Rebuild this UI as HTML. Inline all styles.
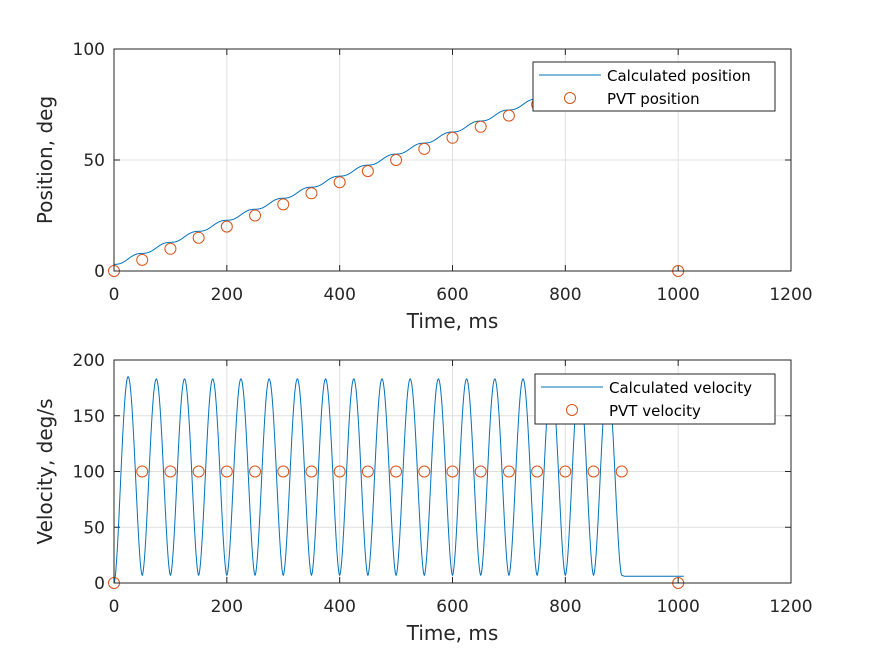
<!DOCTYPE html>
<html><head><meta charset="utf-8"><style>
body{margin:0;background:#fff}
svg{display:block;font-family:"DejaVu Sans","Liberation Sans",sans-serif}
</style></head><body>
<svg id="c" width="875" height="656" viewBox="0 0 875 656"></svg>
<script>
// ---- data ----
const xTicks=[0,200,400,600,800,1000,1200];
const posTicks=[0,50,100];
const velTicks=[0,50,100,150,200];
const pvtTimes=[0,50,100,150,200,250,300,350,400,450,500,550,600,650,700,750,800,850,900,1000];
const pvtPos=[0,5,10,15,20,25,30,35,40,45,50,55,60,65,70,75,80,85,90,0];
const pvtVel=[0,100,100,100,100,100,100,100,100,100,100,100,100,100,100,100,100,100,100,0];
// velocity extremes per 50ms cycle (trough at start of cycle, peak at mid-cycle)
const cycleStart=[0,50,100,150,200,250,300,350,400,450,500,550,600,650,700,750,800,850];
const velPeak=[185,183,183,183,183,183,183,183,183,183,183,183,183,183,183,183,183,183];
const velTrough=[0,7,7,7,7,7,7,7,7,7,7,7,7,7,7,7,7,7];
const velTail=[6,6];           // flat velocity after 900 ms
const tailTimes=[905,1010];
const posStart=[3.0];          // calculated position offset at t=0

const NS="http://www.w3.org/2000/svg";
const svg=document.getElementById('c');
function el(t,a,p){const e=document.createElementNS(NS,t);for(const k in a)e.setAttribute(k,a[k]);(p||svg).appendChild(e);return e;}
const X0=114,X1=791;
const sx=t=>X0+(t/1200)*(X1-X0);
const panels=[{y0:49,y1:271,max:100,ticks:posTicks,ylab:'Position, deg',name:'position'},
              {y0:360,y1:583,max:200,ticks:velTicks,ylab:'Velocity, deg/s',name:'velocity'}];
panels.forEach(p=>{p.sy=v=>p.y1-(v/p.max)*(p.y1-p.y0);});

const SHAPE=0.88;
function vel(t){
  if(t>=900){ if(t<tailTimes[0]){const f=(t-900)/(tailTimes[0]-900);return velTrough[1]+(velTail[0]-velTrough[1])*f;} return velTail[0]; }
  const k=Math.min(cycleStart.length-1,Math.floor(t/50));
  const lt=t-cycleStart[k];
  const tr0=velTrough[k], pk=velPeak[k];
  if(lt<25) return tr0+(pk-tr0)*Math.pow((1-Math.cos(Math.PI*lt/25))/2,SHAPE);
  const endTr=(k+1<velTrough.length)?velTrough[k+1]:7;
  return endTr+(pk-endTr)*Math.pow((1+Math.cos(Math.PI*(lt-25)/25))/2,SHAPE);
}

panels.forEach((p,i)=>{
  const g=el('g',{});  
  el('rect',{x:X0,y:p.y0,width:X1-X0,height:p.y1-p.y0,fill:'#fff'},g);
  xTicks.forEach(t=>{
    const x=sx(t);
    if(t>0&&t<1200){const l=el('line',{x1:x,x2:x,y1:p.y0,y2:p.y1,stroke:'#dfdfdf','stroke-width':1},g);}
    el('line',{x1:x,x2:x,y1:p.y1,y2:p.y1-6,stroke:'#262626'},g);
    el('line',{x1:x,x2:x,y1:p.y0,y2:p.y0+6,stroke:'#262626'},g);
    const tx=el('text',{x:x,y:p.y1+29,'text-anchor':'middle','font-size':'17',fill:'#262626'},g);
    tx.textContent=t;
    
    
  });
  p.ticks.forEach(v=>{
    const y=p.sy(v);
    if(v>0&&v<p.max){const l=el('line',{x1:X0,x2:X1,y1:y,y2:y,stroke:'#dfdfdf'},g);}
    el('line',{x1:X0,x2:X0+6,y1:y,y2:y,stroke:'#262626'},g);
    el('line',{x1:X1,x2:X1-6,y1:y,y2:y,stroke:'#262626'},g);
    const tx=el('text',{x:X0-9,y:y+6,'text-anchor':'end','font-size':'17',fill:'#262626'},g);
    tx.textContent=v;
    
    
  });
  const xl=el('text',{x:(X0+X1)/2,y:p.y1+57,'text-anchor':'middle','font-size':'20',fill:'#262626'},g);
  xl.textContent='Time, ms';
  
  
  const cy=(p.y0+p.y1)/2;
  const yl=el('text',{x:52,y:cy,'text-anchor':'middle','font-size':'20',fill:'#262626',transform:`rotate(-90 52 ${cy})`},g);
  yl.textContent=p.ylab;
  
  
});

(function(){
  const p=panels[0]; let pos=posStart[0]; let d=`M${sx(0)},${p.sy(pos)}`;
  const dt=0.5;
  for(let t=dt;t<=900;t+=dt){pos+=vel(t-dt/2)*dt/1000; d+=`L${sx(t).toFixed(2)},${p.sy(pos).toFixed(2)}`;}
  const path=el('path',{d:d,fill:'none',stroke:'#0072BD','stroke-width':1});
  
  
})();
(function(){
  const p=panels[1]; let d='';
  for(let t=0;t<=tailTimes[1];t+=0.5){d+=(t===0?'M':'L')+sx(t).toFixed(2)+','+p.sy(vel(t)).toFixed(2);}
  const path=el('path',{d:d,fill:'none',stroke:'#0072BD','stroke-width':1});
  
  
})();
pvtTimes.forEach((t,i)=>{
  const c1=el('circle',{cx:sx(t),cy:panels[0].sy(pvtPos[i]),r:5.5,fill:'none',stroke:'#D95319','stroke-width':1});
  
  
  const c2=el('circle',{cx:sx(t),cy:panels[1].sy(pvtVel[i]),r:5.5,fill:'none',stroke:'#D95319','stroke-width':1});
  
  
});
panels.forEach(p=>{el('rect',{x:X0,y:p.y0,width:X1-X0,height:p.y1-p.y0,fill:'none',stroke:'#262626','stroke-width':1});});
function legend(x,y,w,h,l1,l2,name){
  const g=el('g',{});  
  el('rect',{x:x,y:y,width:w,height:h,fill:'#fff',stroke:'#262626'},g);
  el('line',{x1:x+6,x2:x+68,y1:y+13,y2:y+13,stroke:'#0072BD'},g);
  el('circle',{cx:x+37,cy:y+36,r:5.5,fill:'none',stroke:'#D95319'},g);
  const a=el('text',{x:x+74,y:y+19,'font-size':'15',fill:'#000'},g);a.textContent=l1;
  const b=el('text',{x:x+74,y:y+42,'font-size':'15',fill:'#000'},g);b.textContent=l2;
}
legend(533,62,242,49,'Calculated position','PVT position','position-legend');
legend(535,374,240,50,'Calculated velocity','PVT velocity','velocity-legend');
</script>
</body></html>
